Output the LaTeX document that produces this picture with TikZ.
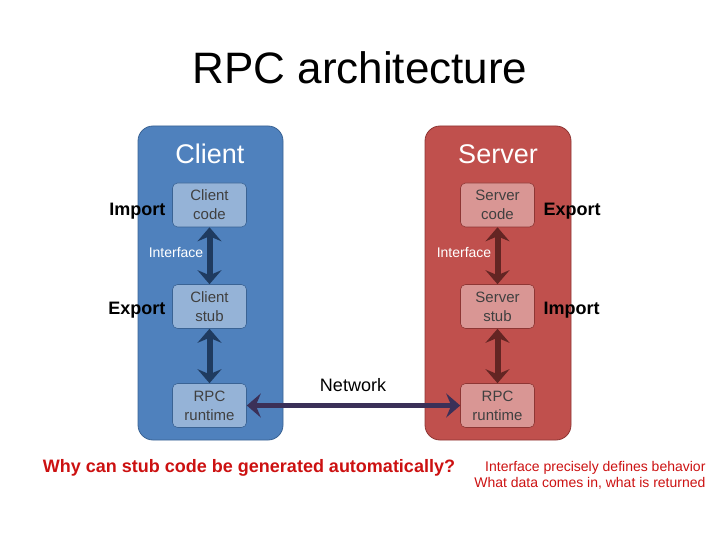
\documentclass[tikz,border=0pt]{standalone}
\usepackage{fontspec}
\setmainfont{Liberation Sans}
\usepackage{tikz}
\usetikzlibrary{arrows.meta}
\definecolor{clientblue}{HTML}{4F81BD}
\definecolor{clientedge}{HTML}{3A6394}
\definecolor{clientbox}{HTML}{95B3D7}
\definecolor{clientarrow}{HTML}{1F3B60}
\definecolor{serverred}{HTML}{C0504D}
\definecolor{serveredge}{HTML}{8E3634}
\definecolor{serverbox}{HTML}{D99694}
\definecolor{serverarrow}{HTML}{632523}
\definecolor{netarrow}{HTML}{3B3058}
\definecolor{notered}{HTML}{CC1111}
\tikzset{
  panel/.style={rounded corners=15pt, line width=0.8pt},
  inbox/.style={rounded corners=5pt, line width=0.6pt, minimum width=74pt, minimum height=44pt,
    align=center, font=\fontsize{15}{19}\selectfont, text=black!75, inner sep=1pt},
  fat/.style={line width=6pt, {Stealth[length=14pt 0,width=24pt 0,inset=5pt 0]}-{Stealth[length=14pt 0,width=24pt 0,inset=5pt 0]}},
  side/.style={font=\fontsize{18}{20}\selectfont\bfseries},
  iface/.style={font=\fontsize{14}{16}\selectfont, text=white}
}
\begin{document}
\begin{tikzpicture}[x=1pt,y=-1pt]
    \useasboundingbox (0,0) rectangle (720,540);
    \node (title) at (360,68) {\fontsize{44}{48}\selectfont RPC architecture};
    % panels
    \draw[panel, fill=clientblue, draw=clientedge] (138,126) rectangle (283,440);
    \draw[panel, fill=serverred, draw=serveredge] (425,126) rectangle (571,440);
    \node[text=white, font=\fontsize{27}{30}\selectfont] (cl) at (210,154) {Client};
    \node[text=white, font=\fontsize{27}{30}\selectfont] (sv) at (498,154) {Server};
    % client side
    \node[inbox, fill=clientbox, draw=clientedge] (ccode) at (209.5,205) {Client\\code};
    \node[inbox, fill=clientbox, draw=clientedge] (cstub) at (209.5,306.5) {Client\\stub};
    \node[inbox, fill=clientbox, draw=clientedge] (crun) at (209.5,405.5) {RPC\\runtime};
    % server side
    \node[inbox, fill=serverbox, draw=serveredge] (scode) at (497.5,205) {Server\\code};
    \node[inbox, fill=serverbox, draw=serveredge] (sstub) at (497.5,306.5) {Server\\stub};
    \node[inbox, fill=serverbox, draw=serveredge] (srun) at (497.5,405.5) {RPC\\runtime};
    % labels
    \node[side, anchor=east] (cimp) at (169,211) {Import};
    \node[side, anchor=east] (cexp) at (169,310) {Export};
    \node[side, anchor=west] (sexp) at (540,211) {Export};
    \node[side, anchor=west] (simp) at (540,310) {Import};
    \node[iface] (cif) at (176,253) {Interface};
    \node[iface] (sif) at (464,253) {Interface};
    \node[font=\fontsize{18}{20}\selectfont] (net) at (353,385) {Network};
    \draw[fat, draw=clientarrow] (ccode) -- (cstub);
    \draw[fat, draw=clientarrow] (cstub) -- (crun);
    \draw[fat, draw=serverarrow] (scode) -- (sstub);
    \draw[fat, draw=serverarrow] (sstub) -- (srun);
    \draw[fat, line width=5pt, draw=netarrow] (crun) -- (srun);
    % notes
    \node[text=notered, font=\fontsize{18}{20}\selectfont\bfseries] (why) at (249,468)
      {Why can stub code be generated automatically?};
    \node[text=notered, font=\fontsize{14}{16}\selectfont, align=right, anchor=east] (note) at (709,475)
      {Interface precisely defines behavior\\What data comes in, what is returned};
\end{tikzpicture}
\end{document}
